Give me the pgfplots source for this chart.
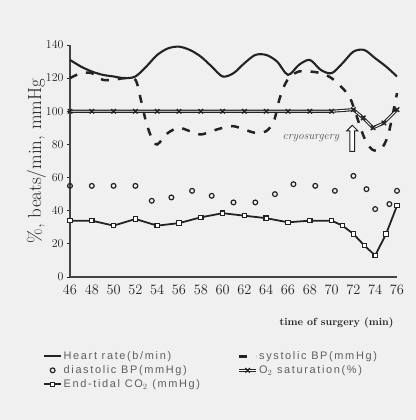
\documentclass[border=0pt]{standalone}
\usepackage{pgfplots}
\pgfplotsset{compat=1.18}
\usepackage{fontspec}
\newfontfamily\legfont[LetterSpace=15]{Liberation Sans}
\usetikzlibrary{shapes.arrows}
\definecolor{bg}{RGB}{240,240,240}
\definecolor{ink}{RGB}{35,35,35}
\definecolor{legink}{RGB}{95,95,95}

\begin{document}
\begin{tikzpicture}
\path[use as bounding box, fill=bg] (0,0) rectangle (416bp,420bp);
\begin{axis}[
 at={(70bp,143bp)}, anchor=south west,
 scale only axis, width=327bp, height=232bp,
 xmin=46, xmax=76, ymin=0, ymax=140,
 axis x line=bottom, axis y line=left,
 axis line style={-, draw=ink!85, line width=1.3pt},
 xtick={46,48,...,76}, ytick={0,20,...,140},
 x tick style={draw=none}, y tick style={draw=ink, line width=0.8pt},
 tick align=outside, major tick length=3bp,
 xticklabel style={font=\fontsize{13.5}{13.5}\selectfont, text=ink, yshift=-2bp},
 yticklabel style={font=\fontsize{13}{13}\selectfont, text=ink},
 xlabel={time of surgery (min)},
 xlabel style={at={(axis description cs:1.0,-0.198)}, anchor=east, font=\fontsize{10.5}{12}\selectfont\bfseries, text=ink},
 ylabel={\%, beats/min, mmHg},
 ylabel style={at={(axis description cs:-0.103,0.5)}, anchor=center, font=\fontsize{19}{19}\selectfont, text=ink},
 clip=false,
 legend columns=2,
 legend style={at={(axis description cs:-0.092,-0.306)}, anchor=north west, draw=none, fill=none,
   font=\legfont\fontsize{11}{11}\selectfont, text=legink, nodes={inner sep=1.5pt},
   /tikz/every even column/.append style={column sep=36bp}, row sep=1.5bp},
 legend cell align=left,
]
% Heart rate
\addplot[draw=ink, line width=2.1pt, smooth, no marks] coordinates {
(46,131) (47,127) (48,124) (49,122) (50,121) (51,120) (52,121) (53,127) (54,134) (55,138)
(56,139) (57,137) (58,133) (59,127) (60,121) (61,123) (62,129) (63,134) (64,134) (65,130)
(66,122) (67,128) (68,131) (69,125) (70,123) (71,129) (72,136) (73,137) (74,132) (75,127) (76,121)};
\addlegendentry{Heart rate(b/min)}
% systolic BP
\addplot[draw=ink, line width=2.5pt, dash pattern=on 8bp off 9bp, smooth, no marks] coordinates {
(46,120) (47,123) (48,123) (49,119) (50,119) (51,120) (52,119) (52.5,107) (53,93) (53.5,84)
(54,80) (55,87) (56,90) (57,88) (58,86) (59,88) (60,90) (61,91) (62,89) (63,87) (64,88)
(64.7,94) (65.2,107) (65.7,116) (66.2,121) (67,124) (68,124) (69,123) (70,120) (71,114)
(71.7,108) (72.3,97) (73,84) (73.7,77) (74.5,77) (75.2,86) (76,111)};
\addlegendentry{systolic BP(mmHg)}
% diastolic BP
\addplot[only marks, mark=o, mark size=2.4pt, draw=ink, line width=1.2pt, mark options={fill=white}] coordinates {
(46,55) (48,55) (50,55) (52,55) (53.5,46) (55.3,48) (57.2,52) (59,49) (61,45) (63,45)
(64.8,50) (66.5,56) (68.5,55) (70.3,52) (72,61) (73.2,53) (74,41) (75.3,44) (76,52)};
\addlegendentry{diastolic BP(mmHg)}
% O2 saturation
\addplot[draw=ink, line width=1.1pt, double=white, double distance=0.9pt, mark=x, mark size=3.2pt,
  mark options={solid, line width=1.3pt, draw=ink}] coordinates {
(46,100) (48,100) (50,100) (52,100) (54,100) (56,100) (58,100) (60,100) (62,100) (64,100)
(66,100) (68,100) (70,100) (72,101) (72.9,96) (73.8,90) (74.8,93) (76,101)};
\addlegendentry{O$_2$ saturation(\%)}
% End-tidal CO2
\addplot[draw=ink, line width=1.8pt, mark=square*, mark size=2.2pt,
  mark options={fill=white, draw=ink, line width=1.1pt}] coordinates {
(46,34) (48,34) (50,31) (52,35) (54,31) (56,32.5) (58,36) (60,38.5) (62,37) (64,35.5)
(66,33) (68,34) (70,34) (71,31) (72,26) (73,19) (74,13) (75,26) (76,43)};
\addlegendentry{End-tidal CO$_2$ (mmHg)}
\node[font=\fontsize{11.5}{11.5}\selectfont\itshape, text=ink!80] at (axis cs:68.1,83.7) {cryosurgery};
\node[single arrow, draw=ink, fill=white, line width=1pt, rotate=90, minimum height=26bp,
  minimum width=11bp, single arrow head extend=2bp, inner sep=1pt] at (axis cs:71.9,83) {};
\end{axis}
\end{tikzpicture}
\end{document}
